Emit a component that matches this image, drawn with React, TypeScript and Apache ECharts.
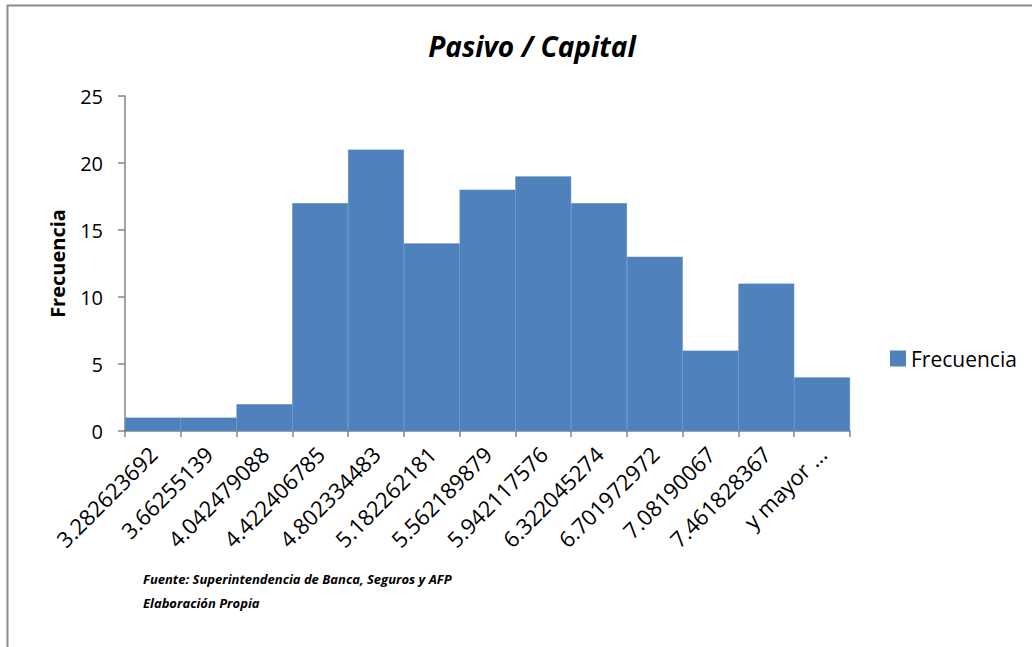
import React, { useEffect, useRef } from "react";
import * as echarts from "echarts";

const categories = [
  "3.282623692",
  "3.66255139",
  "4.042479088",
  "4.422406785",
  "4.802334483",
  "5.182262181",
  "5.562189879",
  "5.942117576",
  "6.322045274",
  "6.701972972",
  "7.08190067",
  "7.461828367",
  "y mayor ...",
];
const frecuencia = [1, 1, 2, 17, 21, 14, 18, 19, 17, 13, 6, 11, 4];
const seriesName = "Frecuencia";
const titleText = "Pasivo / Capital";
const footnotes = ["Fuente: Superintendencia de Banca, Seguros y AFP", "Elaboración Propia"];

const FONT = "'Open Sans', 'Noto Sans', sans-serif";

export default function App() {
  const ref = useRef<HTMLDivElement>(null);
  useEffect(() => {
    const chart = echarts.init(ref.current!, null, { renderer: "svg" });
    chart.setOption({
      animation: false,
      backgroundColor: "#fff",
      title: {
        text: titleText,
        left: 527,
        top: 27,
        textAlign: "center",
        textStyle: { fontFamily: FONT, fontSize: 28, fontWeight: "bold", fontStyle: "italic", color: "#000" },
      },
      legend: {
        left: 890,
        top: 348,
        padding: 0,
        orient: "vertical",
        itemWidth: 14,
        itemHeight: 14,
        itemGap: 6,
        icon: "rect",
        textStyle: { fontFamily: FONT, fontSize: 21, color: "#000", padding: [0, 0, 0, 1] },
        data: [seriesName],
      },
      grid: { left: 125, top: 96, width: 725, height: 335, containLabel: false },
      xAxis: {
        type: "category",
        data: categories,
        axisLine: { lineStyle: { color: "#868686", width: 1.5 } },
        axisTick: { show: true, length: 6, lineStyle: { color: "#868686", width: 1.5 } },
        axisLabel: {
          rotate: 45,
          interval: 0,
          margin: 19,
          fontFamily: FONT,
          fontSize: 22,
          color: "#000",
        },
      },
      yAxis: {
        type: "value",
        min: 0,
        max: 25,
        interval: 5,
        name: seriesName,
        nameLocation: "middle",
        nameGap: 58,
        nameTextStyle: { fontFamily: FONT, fontSize: 20, fontWeight: "bold", color: "#000" },
        axisLine: { show: true, lineStyle: { color: "#868686", width: 1.5 } },
        axisTick: { show: true, length: 7, lineStyle: { color: "#868686", width: 1.5 } },
        splitLine: { show: false },
        axisLabel: { fontFamily: FONT, fontSize: 20, color: "#000", margin: 22 },
      },
      series: [
        {
          name: seriesName,
          type: "bar",
          data: frecuencia,
          barCategoryGap: "0%",
          itemStyle: { color: "#4F81BD", borderColor: "#4F81BD", borderWidth: 0.6 },
        },
      ],
      graphic: [
        {
          type: "polyline",
          shape: { points: [[7.5, 700], [7.5, 5.5], [1040, 5.5]] },
          style: { stroke: "#8c8c8c", lineWidth: 2, fill: "none" },
          silent: true,
        },
        ...footnotes.map((t, i) => ({
          type: "text",
          left: 143,
          top: 572 + i * 24,
          style: {
            text: t,
            fontFamily: FONT,
            fontSize: 13,
            fontWeight: "bold",
            fontStyle: "italic",
            fill: "#000",
          },
        })),
      ],
    });
    return () => chart.dispose();
  }, []);
  return (
    <div
      ref={ref}
      style={{ position: "fixed", left: 0, top: 0, width: 1032, height: 647 }}
    />
  );
}
